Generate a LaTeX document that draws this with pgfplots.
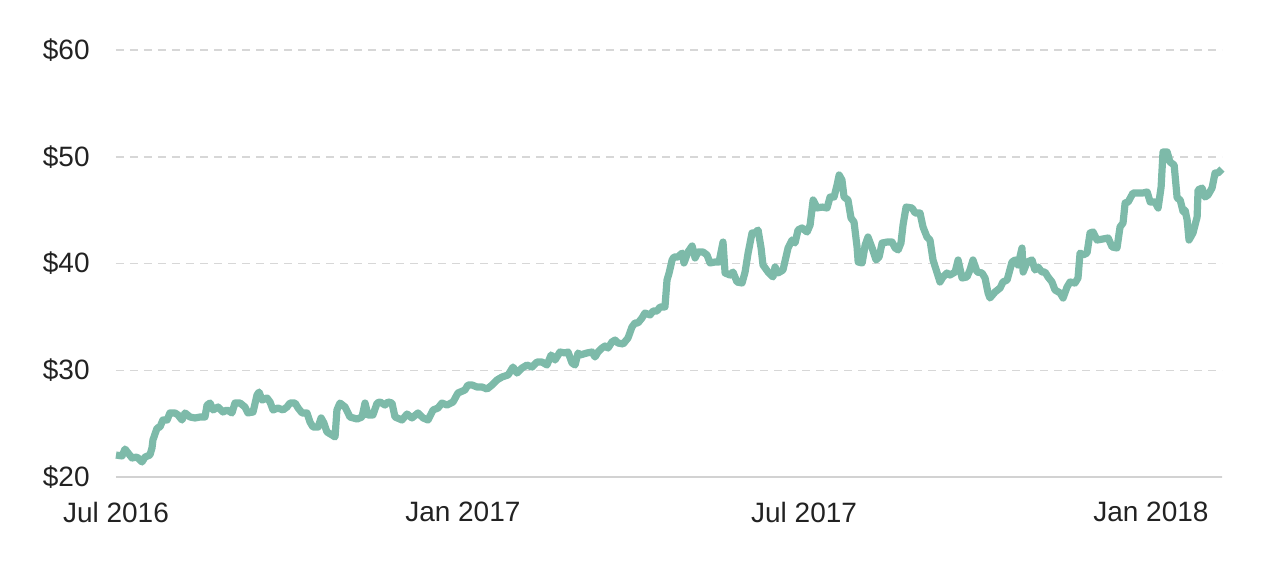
\documentclass[border=0pt]{standalone}
\usepackage{fontspec}
\setmainfont{Liberation Sans}
\usepackage{pgfplots}
\pgfplotsset{compat=1.18}
\usepackage{pgfplotstable}
\definecolor{linec}{RGB}{125,186,169}
\definecolor{gridc}{RGB}{215,215,215}
\definecolor{axisc}{RGB}{210,210,210}
\definecolor{textc}{RGB}{34,34,34}

% day = days since 1 Jul 2016, price in USD
\pgfplotstableread{
day price
0 22.06
3.2 21.97
4.8 22.62
6.4 22.25
8.5 21.78
11.1 21.87
13.8 21.41
15.4 21.87
18.0 22.06
19.1 22.72
19.6 23.47
21.8 24.59
23.3 24.68
24.9 25.34
27.1 25.34
28.6 26.00
31.3 26.00
32.9 25.81
35.0 25.34
36.6 26.00
39.3 25.62
41.9 25.53
44.6 25.62
47.2 25.62
48.3 26.74
49.9 26.93
51.5 26.28
54.1 26.56
56.8 26.09
58.9 26.28
61.5 26.00
63.1 26.93
65.8 26.93
68.4 26.56
70.0 26.00
72.7 26.09
74.8 27.68
75.9 27.96
77.5 27.21
80.1 27.40
81.7 27.03
83.3 26.28
85.9 26.46
88.6 26.28
90.7 26.56
92.3 26.93
95.0 26.93
96.6 26.46
98.7 26.00
101.3 26.00
102.9 25.15
104.5 24.68
107.2 24.68
108.8 25.53
110.3 25.06
111.9 24.22
114.6 23.93
116.2 23.75
117.2 26.28
118.8 26.93
121.5 26.56
123.1 26.00
124.1 25.62
127.9 25.43
130.5 25.62
132.1 26.93
133.7 25.81
136.3 25.81
138.5 26.93
140.1 27.03
142.7 26.74
144.3 27.03
146.4 26.93
148.0 25.62
151.7 25.34
154.4 25.90
157.0 25.53
160.2 26.00
162.9 25.53
165.5 25.34
168.2 26.28
170.8 26.46
172.9 26.93
175.6 26.74
178.8 27.03
181.4 27.87
185.1 28.15
186.7 28.62
188.9 28.62
191.5 28.43
194.2 28.43
196.8 28.24
199.5 28.62
202.1 29.09
204.8 29.37
208.0 29.56
210.6 30.30
212.7 29.74
215.4 30.21
218.0 30.49
220.7 30.30
223.3 30.77
226.0 30.77
228.6 30.49
230.8 31.43
232.9 30.96
235.5 31.71
238.2 31.62
239.8 31.71
241.9 30.68
243.5 30.49
245.1 31.62
246.2 31.43
249.9 31.62
252.5 31.71
254.1 31.24
255.7 31.71
257.8 32.08
259.4 32.27
261.0 32.08
263.1 32.65
264.7 32.83
266.3 32.55
269.0 32.46
271.6 33.02
273.7 34.05
275.3 34.43
276.9 34.43
279.0 34.89
280.6 35.36
283.3 35.18
284.9 35.55
287.0 35.55
288.6 35.93
291.2 35.93
292.3 38.45
293.4 39.11
295.0 40.33
296.0 40.61
298.1 40.61
300.3 40.98
301.3 40.05
303.4 41.08
305.6 41.64
307.2 40.52
308.7 41.08
311.4 41.08
313.5 40.80
315.1 40.05
317.8 40.14
319.9 40.14
322.0 42.01
323.1 39.11
325.7 38.92
327.3 39.20
329.4 38.27
332.1 38.17
333.7 39.20
335.3 40.98
337.4 42.86
339.0 42.86
340.6 43.14
342.2 41.45
343.2 39.86
345.9 39.20
348.5 38.74
349.6 39.67
351.2 39.11
353.8 39.39
356.5 41.45
358.6 42.20
360.2 41.92
361.8 43.14
363.9 43.33
366.6 42.95
368.2 43.61
369.8 45.95
371.9 45.20
374.5 45.29
377.2 45.20
378.8 46.23
380.9 46.23
382.5 47.35
383.6 48.29
385.1 47.82
386.2 46.23
388.3 45.95
389.9 44.26
391.5 43.89
393.1 41.55
393.7 40.14
395.8 40.05
397.4 41.73
398.9 42.48
401.1 41.45
403.2 40.33
404.8 40.61
406.4 41.92
409.0 42.01
411.7 42.01
413.3 41.45
414.9 41.27
416.4 41.92
417.5 43.61
419.1 45.29
422.3 45.20
423.9 44.73
426.5 44.73
428.1 43.42
430.2 42.48
431.8 42.20
433.4 40.33
435.6 39.11
437.1 38.27
438.7 38.74
440.8 39.11
442.4 38.92
445.1 39.20
446.7 40.33
448.8 38.64
451.4 38.74
453.0 39.39
454.6 40.33
456.8 39.20
459.4 39.11
461.0 38.64
462.6 37.24
463.6 36.77
466.3 37.33
469.0 37.71
470.5 38.27
472.7 38.45
475.3 40.14
476.9 40.33
478.5 39.86
480.6 41.45
481.2 39.20
483.3 40.14
485.9 40.33
487.5 39.39
489.1 39.67
491.2 39.20
492.8 39.20
494.4 38.74
496.5 38.27
498.1 37.52
500.8 37.24
502.4 36.77
504.5 37.80
506.1 38.27
508.7 38.17
510.3 38.64
511.4 40.98
513.0 40.80
515.1 40.98
516.7 42.86
518.3 42.95
520.4 42.20
523.6 42.30
526.3 42.39
528.4 41.55
531.0 41.45
532.6 43.42
534.2 43.80
535.3 45.67
536.9 45.76
539.5 46.61
542.2 46.61
544.8 46.61
547.0 46.70
548.6 45.76
551.2 45.76
552.8 45.20
554.4 47.17
555.4 50.45
557.6 50.45
559.1 49.51
561.3 49.23
562.9 46.14
564.5 45.95
566.1 44.83
567.1 45.01
568.2 44.08
569.2 42.20
571.3 42.86
573.5 44.36
574.0 46.89
576.1 47.07
577.7 46.23
579.3 46.42
581.4 47.07
583.0 48.48
584.6 48.48
586.7 48.85
}\pricedata

\begin{document}
\begin{tikzpicture}
\begin{axis}[
  at={(0,0)}, anchor=south west,
  scale only axis,
  width=553pt, height=213.5pt,
  xmin=0, xmax=586.7,
  ymin=20, ymax=60,
  axis y line*=left,
  axis x line*=bottom,
  y axis line style={draw=none},
  x axis line style={-, draw=axisc, line width=1pt},
  xtick={0,184,365,549},
  xticklabels={Jul 2016,Jan 2017,Jul 2017,Jan 2018},
  ytick={20,30,40,50,60},
  yticklabel={\$\pgfmathprintnumber{\tick}},
  /pgf/number format/assume math mode=true,
  major tick length=0pt,
  ymajorgrids,
  major grid style={draw=gridc, line width=0.75pt, dash pattern=on 4pt off 3pt},
  tick label style={font=\fontsize{14}{16}\selectfont, text=textc},
  xticklabel style={anchor=north, inner sep=0pt, yshift=-12.5pt},
  yticklabel style={anchor=east, inner sep=0pt, xshift=-13pt},
  clip=false,
]
\addplot[draw=linec, line width=3.6pt, line join=round, line cap=butt] table[x=day, y=price] {\pricedata};
\end{axis}
\pgfresetboundingbox
\path[use as bounding box] (-58pt,-45.5pt) rectangle (582pt,238.5pt);
\end{tikzpicture}
\end{document}
